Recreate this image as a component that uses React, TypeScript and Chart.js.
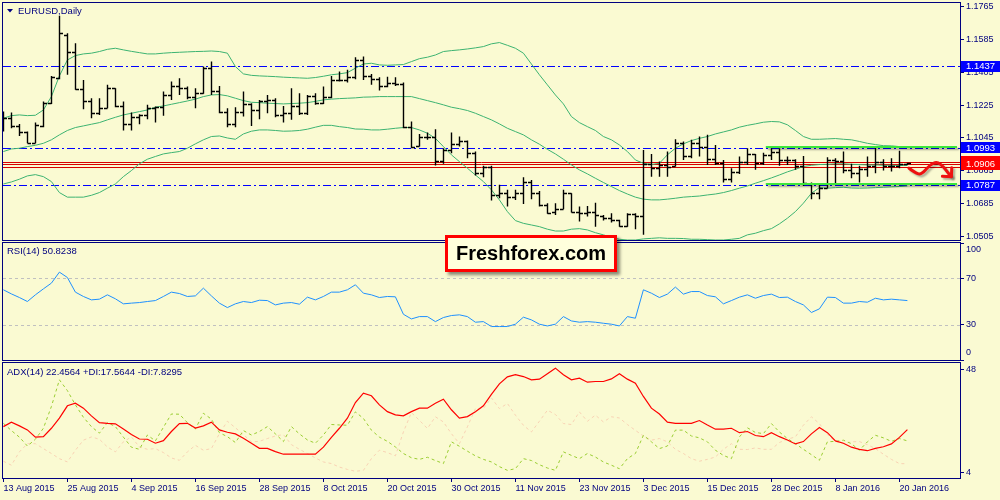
import React, { useEffect, useRef } from "react";
import { Chart, registerables } from "chart.js";

Chart.register(...registerables);

const NAVY = "#000080";
const BG = "#FAFAD2";
const FONT = "Liberation Sans";

const X_MIN = -0.05;
const X_MAX = 119.575;

const tickIndex = [0, 8, 16, 24, 32, 40, 48, 56, 64, 72, 80, 88, 96, 104, 112];
const tickLabels = [
  "13 Aug 2015", "25 Aug 2015", "4 Sep 2015", "16 Sep 2015", "28 Sep 2015",
  "8 Oct 2015", "20 Oct 2015", "30 Oct 2015", "11 Nov 2015", "23 Nov 2015",
  "3 Dec 2015", "15 Dec 2015", "28 Dec 2015", "8 Jan 2016", "20 Jan 2016",
];

const priceTitle = "EURUSD,Daily";
const rsiTitle = "RSI(14) 50.8238";
const adxTitle = "ADX(14) 22.4564 +DI:17.5644 -DI:7.8295";
const brandText = "Freshforex.com";

const openP = [
  1.1153, 1.1153, 1.1111, 1.1080, 1.1020, 1.1111, 1.1235, 1.1371, 1.1608, 1.1517,
  1.1311, 1.1249, 1.1180, 1.1208, 1.1317, 1.1220, 1.1122, 1.1162, 1.1169, 1.1208,
  1.1213, 1.1277, 1.1329, 1.1317, 1.1268, 1.1289, 1.1426, 1.1299, 1.1189, 1.1122,
  1.1189, 1.1231, 1.1198, 1.1249, 1.1253, 1.1171, 1.1180, 1.1220, 1.1184, 1.1275,
  1.1235, 1.1271, 1.1362, 1.1362, 1.1380, 1.1471, 1.1384, 1.1366, 1.1329, 1.1344,
  1.1340, 1.1104, 1.1002, 1.1053, 1.1049, 1.0922, 1.0980, 1.1013, 1.1026, 1.0965,
  1.0853, 1.0885, 1.0734, 1.0747, 1.0722, 1.0747, 1.0807, 1.0747, 1.0680, 1.0643,
  1.0656, 1.0743, 1.0643, 1.0638, 1.0643, 1.0620, 1.0607, 1.0598, 1.0565, 1.0631,
  1.0620, 1.0904, 1.0880, 1.0898, 1.0893, 1.1020, 1.0944, 1.1016, 1.0998, 1.0929,
  1.0907, 1.0820, 1.0862, 1.0916, 1.0958, 1.0907, 1.0953, 1.0971, 1.0925, 1.0925,
  1.0893, 1.0794, 1.0747, 1.0771, 1.0925, 1.0922, 1.0871, 1.0856, 1.0874, 1.0893,
  1.0916, 1.0893, 1.0893, 1.0904,
];
const highP = [
  1.1189, 1.1184, 1.1122, 1.1080, 1.1129, 1.1244, 1.1384, 1.1712, 1.1617, 1.1562,
  1.1362, 1.1262, 1.1262, 1.1335, 1.1317, 1.1244, 1.1184, 1.1175, 1.1226, 1.1217,
  1.1299, 1.1353, 1.1371, 1.1326, 1.1317, 1.1435, 1.1462, 1.1329, 1.1208, 1.1213,
  1.1299, 1.1235, 1.1253, 1.1280, 1.1262, 1.1220, 1.1317, 1.1289, 1.1280, 1.1289,
  1.1326, 1.1384, 1.1408, 1.1417, 1.1486, 1.1490, 1.1395, 1.1377, 1.1380, 1.1377,
  1.1348, 1.1135, 1.1067, 1.1075, 1.1093, 1.0989, 1.1075, 1.1053, 1.1031, 1.0971,
  1.0893, 1.0893, 1.0789, 1.0762, 1.0762, 1.0831, 1.0816, 1.0756, 1.0689, 1.0689,
  1.0762, 1.0743, 1.0671, 1.0674, 1.0692, 1.0625, 1.0634, 1.0598, 1.0634, 1.0634,
  1.0980, 1.0958, 1.0916, 1.0971, 1.1038, 1.1026, 1.1035, 1.1053, 1.1062, 1.1007,
  1.0925, 1.0880, 1.0944, 1.0989, 1.0958, 1.0965, 1.0989, 1.0989, 1.0944, 1.0929,
  1.0947, 1.0802, 1.0798, 1.0940, 1.0935, 1.0971, 1.0904, 1.0893, 1.0944, 1.0993,
  1.0929, 1.0935, 1.0975, 1.0910,
];
const lowP = [
  1.1080, 1.1098, 1.1056, 1.1016, 1.1016, 1.1104, 1.1231, 1.1366, 1.1390, 1.1308,
  1.1202, 1.1153, 1.1171, 1.1208, 1.1213, 1.1086, 1.1086, 1.1120, 1.1147, 1.1129,
  1.1166, 1.1253, 1.1280, 1.1257, 1.1208, 1.1286, 1.1280, 1.1180, 1.1104, 1.1104,
  1.1162, 1.1111, 1.1147, 1.1180, 1.1158, 1.1129, 1.1144, 1.1171, 1.1171, 1.1226,
  1.1231, 1.1262, 1.1353, 1.1348, 1.1366, 1.1362, 1.1335, 1.1304, 1.1322, 1.1329,
  1.1098, 1.0989, 1.0998, 1.1035, 1.0895, 1.0904, 1.0962, 1.0998, 1.0935, 1.0840,
  1.0831, 1.0703, 1.0716, 1.0671, 1.0707, 1.0685, 1.0711, 1.0671, 1.0631, 1.0625,
  1.0656, 1.0638, 1.0589, 1.0616, 1.0561, 1.0594, 1.0583, 1.0561, 1.0561, 1.0547,
  1.0516, 1.0834, 1.0834, 1.0834, 1.0889, 1.0925, 1.0935, 1.0944, 1.0898, 1.0898,
  1.0802, 1.0802, 1.0849, 1.0898, 1.0871, 1.0898, 1.0925, 1.0893, 1.0898, 1.0871,
  1.0783, 1.0711, 1.0711, 1.0771, 1.0798, 1.0853, 1.0825, 1.0802, 1.0834, 1.0853,
  1.0867, 1.0862, 1.0880, 1.0898,
];
const closeP = [
  1.1153, 1.1111, 1.1080, 1.1020, 1.1117, 1.1238, 1.1380, 1.1617, 1.1517, 1.1311,
  1.1249, 1.1180, 1.1208, 1.1317, 1.1220, 1.1122, 1.1162, 1.1169, 1.1208, 1.1213,
  1.1277, 1.1329, 1.1317, 1.1268, 1.1289, 1.1426, 1.1299, 1.1189, 1.1122, 1.1189,
  1.1231, 1.1198, 1.1249, 1.1253, 1.1171, 1.1180, 1.1220, 1.1184, 1.1275, 1.1235,
  1.1271, 1.1362, 1.1362, 1.1380, 1.1471, 1.1384, 1.1366, 1.1329, 1.1344, 1.1340,
  1.1104, 1.0998, 1.1053, 1.1049, 1.0922, 1.0980, 1.1013, 1.1026, 1.0965, 1.0853,
  1.0885, 1.0734, 1.0747, 1.0722, 1.0747, 1.0807, 1.0747, 1.0680, 1.0634, 1.0656,
  1.0743, 1.0643, 1.0638, 1.0643, 1.0625, 1.0607, 1.0598, 1.0565, 1.0631, 1.0620,
  1.0904, 1.0880, 1.0898, 1.0889, 1.1020, 1.0944, 1.1016, 1.0998, 1.0929, 1.0907,
  1.0820, 1.0862, 1.0916, 1.0958, 1.0907, 1.0953, 1.0971, 1.0925, 1.0925, 1.0893,
  1.0798, 1.0747, 1.0771, 1.0925, 1.0922, 1.0871, 1.0856, 1.0874, 1.0893, 1.0916,
  1.0893, 1.0893, 1.0904, 1.0906,
];

const bbUpper = [
  1.1153, 1.1167, 1.1171, 1.1167, 1.1169, 1.1198, 1.1271, 1.1384, 1.1471, 1.1495,
  1.1504, 1.1508, 1.1517, 1.1529, 1.1535, 1.1526, 1.1518, 1.1511, 1.1504, 1.1504,
  1.1508, 1.1511, 1.1513, 1.1515, 1.1517, 1.1518, 1.1520, 1.1517, 1.1508, 1.1435,
  1.1395, 1.1387, 1.1384, 1.1382, 1.1380, 1.1377, 1.1375, 1.1373, 1.1371, 1.1375,
  1.1382, 1.1390, 1.1395, 1.1402, 1.1426, 1.1449, 1.1453, 1.1444, 1.1442, 1.1444,
  1.1446, 1.1462, 1.1478, 1.1486, 1.1498, 1.1517, 1.1522, 1.1526, 1.1531, 1.1537,
  1.1544, 1.1559, 1.1566, 1.1551, 1.1535, 1.1508, 1.1449, 1.1390, 1.1335, 1.1280,
  1.1231, 1.1162, 1.1129, 1.1107, 1.1086, 1.1053, 1.1035, 1.1007, 1.0971, 1.0925,
  1.0907, 1.0900, 1.0907, 1.0953, 1.0989, 1.1013, 1.1031, 1.1043, 1.1053, 1.1067,
  1.1078, 1.1089, 1.1104, 1.1114, 1.1122, 1.1131, 1.1135, 1.1133, 1.1117, 1.1086,
  1.1053, 1.1038, 1.1038, 1.1040, 1.1042, 1.1038, 1.1035, 1.1026, 1.1016, 1.1009,
  1.1003, 1.1002, 1.0998, 1.0998,
];
const bbMiddle = [
  1.0971, 1.0985, 1.0989, 1.0998, 1.1005, 1.1016, 1.1035, 1.1062, 1.1086, 1.1102,
  1.1111, 1.1120, 1.1129, 1.1144, 1.1158, 1.1171, 1.1180, 1.1189, 1.1198, 1.1213,
  1.1220, 1.1229, 1.1238, 1.1247, 1.1257, 1.1271, 1.1280, 1.1282, 1.1275, 1.1262,
  1.1249, 1.1240, 1.1238, 1.1235, 1.1233, 1.1231, 1.1233, 1.1235, 1.1238, 1.1245,
  1.1253, 1.1257, 1.1260, 1.1262, 1.1264, 1.1268, 1.1269, 1.1271, 1.1271, 1.1271,
  1.1271, 1.1271, 1.1260, 1.1249, 1.1238, 1.1226, 1.1213, 1.1205, 1.1195, 1.1180,
  1.1162, 1.1144, 1.1122, 1.1098, 1.1080, 1.1062, 1.1035, 1.1011, 1.0983, 1.0958,
  1.0929, 1.0898, 1.0871, 1.0849, 1.0825, 1.0802, 1.0780, 1.0758, 1.0739, 1.0722,
  1.0711, 1.0707, 1.0707, 1.0711, 1.0716, 1.0722, 1.0725, 1.0728, 1.0734, 1.0739,
  1.0747, 1.0758, 1.0771, 1.0783, 1.0798, 1.0812, 1.0827, 1.0843, 1.0860, 1.0874,
  1.0889, 1.0896, 1.0900, 1.0901, 1.0904, 1.0904, 1.0901, 1.0900, 1.0898, 1.0898,
  1.0896, 1.0896, 1.0895, 1.0895,
];
const bbLower = [
  1.0794, 1.0805, 1.0820, 1.0838, 1.0845, 1.0834, 1.0807, 1.0747, 1.0722, 1.0722,
  1.0722, 1.0732, 1.0747, 1.0771, 1.0794, 1.0834, 1.0867, 1.0904, 1.0929, 1.0944,
  1.0958, 1.0965, 1.0971, 1.0989, 1.1013, 1.1035, 1.1053, 1.1056, 1.1045, 1.1038,
  1.1067, 1.1082, 1.1089, 1.1089, 1.1086, 1.1082, 1.1083, 1.1086, 1.1093, 1.1104,
  1.1114, 1.1114, 1.1107, 1.1102, 1.1094, 1.1093, 1.1089, 1.1089, 1.1093, 1.1098,
  1.1102, 1.1102, 1.1089, 1.1071, 1.1043, 1.0998, 1.0953, 1.0916, 1.0880, 1.0843,
  1.0807, 1.0762, 1.0707, 1.0643, 1.0594, 1.0579, 1.0570, 1.0561, 1.0547, 1.0537,
  1.0537, 1.0547, 1.0550, 1.0543, 1.0528, 1.0516, 1.0503, 1.0492, 1.0488, 1.0488,
  1.0494, 1.0497, 1.0500, 1.0497, 1.0497, 1.0496, 1.0492, 1.0492, 1.0490, 1.0488,
  1.0488, 1.0492, 1.0497, 1.0516, 1.0525, 1.0539, 1.0550, 1.0576, 1.0607, 1.0643,
  1.0689, 1.0743, 1.0774, 1.0771, 1.0774, 1.0776, 1.0772, 1.0771, 1.0772, 1.0774,
  1.0776, 1.0778, 1.0780, 1.0783,
];

const rsiValues = [
  60.0, 56.5, 53.4, 50.0, 55.7, 60.8, 65.7, 75.1, 70.5, 58.0,
  54.3, 51.4, 52.0, 55.7, 52.3, 48.0, 48.6, 49.1, 50.0, 50.8,
  54.3, 58.0, 56.8, 54.3, 54.8, 61.4, 54.8, 48.6, 44.8, 48.0,
  50.0, 49.1, 51.1, 50.8, 47.1, 48.6, 49.1, 47.7, 53.7, 51.4,
  54.3, 58.0, 58.0, 60.0, 64.3, 57.1, 55.7, 53.4, 54.3, 54.0,
  39.1, 35.1, 37.1, 37.1, 32.8, 36.3, 38.0, 38.6, 37.1, 32.3,
  32.8, 28.6, 28.6, 28.6, 30.6, 36.6, 34.3, 30.6, 29.1, 30.6,
  37.1, 33.4, 32.3, 32.8, 32.3, 31.4, 30.6, 29.1, 37.1, 35.7,
  60.0, 57.1, 53.4, 56.3, 62.3, 56.3, 58.5, 58.5, 55.1, 54.0,
  48.0, 50.8, 53.7, 55.7, 52.8, 55.1, 56.3, 53.4, 53.7, 50.0,
  47.1, 40.6, 43.7, 53.7, 53.4, 48.6, 48.6, 50.0, 49.4, 52.8,
  51.4, 52.0, 51.4, 50.8,
];

const adxValues = [
  23.7, 25.6, 24.0, 22.3, 19.2, 19.4, 23.0, 27.3, 32.6, 33.7,
  31.6, 28.3, 25.4, 25.1, 24.9, 22.7, 20.3, 18.4, 18.3, 16.6,
  17.7, 21.6, 25.0, 25.1, 23.1, 24.0, 25.6, 22.3, 21.3, 20.6,
  18.7, 16.6, 14.4, 14.4, 13.0, 11.9, 11.9, 11.9, 11.9, 11.9,
  14.9, 19.1, 23.0, 27.3, 34.0, 38.0, 36.9, 33.0, 30.1, 28.7,
  28.3, 30.1, 31.6, 31.6, 33.7, 35.4, 30.9, 27.3, 28.0, 30.1,
  32.6, 37.5, 42.0, 45.0, 45.9, 45.1, 43.7, 44.0, 46.3, 48.7,
  45.9, 43.7, 44.4, 42.7, 43.0, 43.0, 44.1, 46.3, 44.0, 42.3,
  36.6, 31.6, 29.1, 25.6, 25.1, 25.1, 25.1, 26.3, 24.4, 22.6,
  22.6, 23.0, 21.1, 21.6, 19.9, 19.4, 21.1, 19.4, 18.0, 16.3,
  17.3, 20.6, 23.3, 21.1, 17.6, 16.6, 14.9, 14.0, 13.4, 14.4,
  15.1, 16.3, 19.1, 22.4,
];
const plusDI = [
  25.1, 22.0, 19.2, 15.4, 18.3, 23.0, 32.3, 43.7, 39.1, 33.0,
  27.7, 23.7, 20.9, 25.4, 23.7, 19.2, 14.9, 14.0, 20.1, 17.6,
  23.4, 29.1, 29.0, 25.4, 22.7, 29.4, 26.9, 21.1, 19.4, 16.9,
  22.0, 20.1, 21.6, 23.7, 20.6, 17.3, 23.7, 20.6, 18.0, 16.6,
  20.1, 24.6, 24.4, 24.3, 30.0, 27.2, 22.2, 19.2, 17.4, 15.0,
  12.2, 10.4, 9.7, 10.6, 9.2, 7.9, 17.2, 15.3, 13.2, 11.2,
  9.7, 8.6, 6.6, 5.0, 5.7, 10.0, 9.2, 7.4, 6.0, 5.0,
  12.9, 11.4, 10.0, 12.2, 10.7, 8.6, 7.2, 5.7, 10.0, 12.2,
  20.0, 17.2, 14.3, 15.4, 22.2, 22.2, 19.7, 18.9, 17.2, 13.6,
  11.4, 10.0, 19.3, 23.2, 21.2, 20.7, 25.0, 21.4, 18.6, 16.4,
  14.0, 11.7, 9.3, 17.2, 17.4, 17.9, 16.4, 13.6, 17.2, 20.0,
  18.9, 17.4, 18.6, 17.6,
];
const minusDI = [
  8.9, 7.2, 12.9, 16.4, 16.4, 14.3, 12.2, 10.0, 8.6, 13.6,
  17.9, 19.3, 18.3, 15.0, 12.9, 17.2, 19.3, 15.0, 14.0, 14.3,
  12.6, 10.3, 9.3, 12.9, 15.7, 13.6, 14.3, 20.7, 26.0, 23.2,
  20.3, 17.2, 17.4, 18.6, 19.7, 20.3, 16.0, 14.0, 12.2, 10.3,
  8.6, 7.9, 6.4, 5.4, 4.6, 5.0, 10.0, 13.6, 12.6, 11.2,
  21.4, 29.7, 26.4, 22.9, 27.9, 25.7, 20.7, 16.4, 23.6, 31.4,
  31.4, 36.0, 31.4, 33.6, 28.6, 24.3, 21.4, 26.0, 30.7, 28.9,
  25.0, 24.6, 30.0, 26.0, 28.6, 25.7, 27.9, 27.4, 24.6, 22.1,
  19.7, 17.9, 18.6, 17.2, 14.0, 12.2, 10.0, 8.9, 9.7, 10.7,
  14.0, 16.4, 14.0, 13.9, 14.6, 14.0, 14.0, 16.9, 18.3, 19.3,
  24.3, 27.9, 25.0, 20.3, 17.4, 16.4, 17.2, 17.3, 16.0, 14.3,
  11.9, 9.7, 7.9, 7.8,
];

const priceMin = 1.0488;
const priceMax = 1.1782;
const priceTicks = [1.1765, 1.1585, 1.1405, 1.1225, 1.1045, 1.0865, 1.0685, 1.0505];
const blueLevels = [1.1437, 1.0993, 1.0787];
const redLevels = [1.0916, 1.0905, 1.0885];
const lastPrice = 1.0906;
const rangeLevels = [1.0998, 1.0792];
const rangeSpan = [95.3, 119.2];
const arrowIdx = [113.2, 113.9, 114.7, 115.8, 116.7, 117.5, 118.1, 118.5];
const arrowPrice = [1.0880, 1.0858, 1.0843, 1.0898, 1.0916, 1.0889, 1.0853, 1.0834];

const rsiLevels = [70, 30];
const rsiTicks = [100, 70, 30, 0];
const adxMin = 1.73;
const adxMax = 50.9;
const adxTicks = [48, 4];

const pts = (arr: number[]) => arr.map((v, i) => ({ x: i, y: v }));

function xScale(show: boolean) {
  return {
    type: "linear",
    min: X_MIN,
    max: X_MAX,
    bounds: "data",
    display: show,
    afterBuildTicks: (s: any) => {
      s.ticks = tickIndex.map((v) => ({ value: v }));
    },
    afterFit: (s: any) => {
      if (show) s.height = 22;
      s.paddingLeft = 0;
      s.paddingRight = 0;
    },
    ticks: {
      autoSkip: false,
      maxRotation: 0,
      minRotation: 0,
      align: "start",
      padding: 1,
      color: NAVY,
      font: { family: FONT, size: 9 },
      callback: (v: any) => {
        const k = tickIndex.indexOf(Number(v));
        return k >= 0 ? tickLabels[k] : "";
      },
    },
    grid: { drawOnChartArea: false, drawTicks: true, tickLength: 4, color: NAVY },
    border: { display: false },
  };
}

function yScale(min: number, max: number, ticks: number[], fmt: (v: number) => string) {
  return {
    type: "linear",
    position: "right",
    min,
    max,
    bounds: "data",
    afterBuildTicks: (s: any) => {
      s.ticks = ticks.map((v) => ({ value: v }));
    },
    afterFit: (s: any) => {
      s.width = 40;
      s.paddingTop = 0;
      s.paddingBottom = 0;
    },
    ticks: {
      autoSkip: false,
      padding: 2,
      color: NAVY,
      font: { family: FONT, size: 9 },
      callback: (v: any) => fmt(Number(v)),
    },
    grid: { drawOnChartArea: false, drawTicks: true, tickLength: 4, color: NAVY },
    border: { display: false },
  };
}

function clipArea(chart: any) {
  const a = chart.chartArea;
  chart.ctx.beginPath();
  chart.ctx.rect(a.left, a.top, a.right - a.left, a.bottom - a.top);
  chart.ctx.clip();
}

function drawFrame(chart: any) {
  const { ctx, chartArea: a } = chart;
  ctx.save();
  ctx.strokeStyle = NAVY;
  ctx.lineWidth = 1;
  ctx.strokeRect(a.left - 0.5, a.top - 0.5, a.right - a.left + 1, a.bottom - a.top + 1);
  ctx.restore();
}

function drawTitle(chart: any, text: string, x: number, y: number) {
  const ctx = chart.ctx;
  ctx.save();
  ctx.fillStyle = NAVY;
  ctx.font = `9.5px "${FONT}"`;
  ctx.textBaseline = "middle";
  ctx.textAlign = "left";
  ctx.fillText(text, x, y);
  ctx.restore();
}

function hLine(chart: any, value: number, color: string, dash: number[], width: number) {
  const { ctx, chartArea: a, scales } = chart;
  const y = Math.round(scales.y.getPixelForValue(value)) + 0.5;
  ctx.save();
  ctx.strokeStyle = color;
  ctx.lineWidth = width;
  ctx.setLineDash(dash);
  ctx.beginPath();
  ctx.moveTo(a.left, y);
  ctx.lineTo(a.right, y);
  ctx.stroke();
  ctx.restore();
}

function priceTag(chart: any, value: number, fill: string, h: number) {
  const { ctx, chartArea: a, scales } = chart;
  const y = scales.y.getPixelForValue(value);
  const x0 = a.right + 1;
  ctx.save();
  ctx.fillStyle = fill;
  ctx.fillRect(x0, Math.round(y - h / 2), chart.width - x0, h);
  ctx.fillStyle = "#FFFFFF";
  ctx.font = `9.5px "${FONT}"`;
  ctx.textBaseline = "middle";
  ctx.textAlign = "left";
  ctx.fillText(value.toFixed(4), x0 + 5, y + 0.5);
  ctx.restore();
}

const pricePlugin = {
  id: "priceDecor",
  beforeDatasetsDraw(chart: any) {
    const ctx = chart.ctx;
    ctx.save();
    clipArea(chart);
    blueLevels.forEach((v) => hLine(chart, v, "#0000FF", [8, 3, 2, 3], 1));
    redLevels.forEach((v) => hLine(chart, v, "#D80000", [], 1));
    ctx.restore();
  },
  afterDatasetsDraw(chart: any) {
    const { ctx, scales } = chart;
    const xs = scales.x;
    const ys = scales.y;
    ctx.save();
    clipArea(chart);
    ctx.strokeStyle = "#000000";
    ctx.lineWidth = 1.4;
    ctx.beginPath();
    for (let i = 0; i < closeP.length; i++) {
      const px = Math.round(xs.getPixelForValue(i)) + 0.5;
      const yh = ys.getPixelForValue(highP[i]);
      const yl = ys.getPixelForValue(lowP[i]);
      const yo = Math.round(ys.getPixelForValue(openP[i])) + 0.5;
      const yc = Math.round(ys.getPixelForValue(closeP[i])) + 0.5;
      ctx.moveTo(px, yh);
      ctx.lineTo(px, yl);
      ctx.moveTo(px - 3.5, yo);
      ctx.lineTo(px, yo);
      ctx.moveTo(px, yc);
      ctx.lineTo(px + 3.5, yc);
    }
    ctx.stroke();
    ctx.restore();
  },
  afterDraw(chart: any) {
    const { ctx, scales } = chart;
    const xs = scales.x;
    const ys = scales.y;
    drawFrame(chart);

    // range lines (lime) with shadow
    ctx.save();
    ctx.strokeStyle = "#3CE63C";
    ctx.lineWidth = 2;
    ctx.shadowColor = "rgba(0,0,0,0.35)";
    ctx.shadowOffsetX = 2;
    ctx.shadowOffsetY = 2;
    ctx.shadowBlur = 2;
    rangeLevels.forEach((v) => {
      const y = Math.round(ys.getPixelForValue(v));
      ctx.beginPath();
      ctx.moveTo(xs.getPixelForValue(rangeSpan[0]), y);
      ctx.lineTo(xs.getPixelForValue(rangeSpan[1]), y);
      ctx.stroke();
    });
    ctx.restore();

    // arrow
    const P = arrowIdx.map((v, k) => [xs.getPixelForValue(v), ys.getPixelForValue(arrowPrice[k])]);
    ctx.save();
    ctx.strokeStyle = "#EE1111";
    ctx.lineWidth = 3;
    ctx.lineCap = "round";
    ctx.lineJoin = "round";
    ctx.shadowColor = "rgba(0,0,0,0.3)";
    ctx.shadowOffsetX = 2;
    ctx.shadowOffsetY = 2;
    ctx.shadowBlur = 2;
    ctx.beginPath();
    ctx.moveTo(P[0][0], P[0][1]);
    for (let k = 1; k < P.length - 1; k++) {
      const mx = (P[k][0] + P[k + 1][0]) / 2;
      const my = (P[k][1] + P[k + 1][1]) / 2;
      ctx.quadraticCurveTo(P[k][0], P[k][1], mx, my);
    }
    const n = P.length;
    ctx.lineTo(P[n - 1][0], P[n - 1][1]);
    ctx.stroke();
    const [tx, ty] = P[n - 1];
    const [sx, sy] = P[n - 2];
    const ang = Math.atan2(ty - sy, tx - sx);
    const L = 9;
    ctx.beginPath();
    ctx.moveTo(tx + L * Math.cos(ang + Math.PI * 0.75), ty + L * Math.sin(ang + Math.PI * 0.75));
    ctx.lineTo(tx, ty);
    ctx.lineTo(tx + L * Math.cos(ang - Math.PI * 0.75), ty + L * Math.sin(ang - Math.PI * 0.75));
    ctx.stroke();
    ctx.restore();

    // title with triangle
    ctx.save();
    ctx.fillStyle = NAVY;
    ctx.beginPath();
    ctx.moveTo(7, 9);
    ctx.lineTo(13, 9);
    ctx.lineTo(10, 12.5);
    ctx.closePath();
    ctx.fill();
    ctx.restore();
    drawTitle(chart, priceTitle, 18, 11);

    // price tags on the axis
    blueLevels.forEach((v) => priceTag(chart, v, "#0000FF", 11));
    priceTag(chart, lastPrice, "#FF0000", 14);
  },
};

const rsiPlugin = {
  id: "rsiDecor",
  beforeDatasetsDraw(chart: any) {
    const ctx = chart.ctx;
    ctx.save();
    clipArea(chart);
    rsiLevels.forEach((v) => hLine(chart, v, "#C0C0C0", [3, 3], 1));
    ctx.restore();
  },
  afterDraw(chart: any) {
    const { ctx, chartArea: a } = chart;
    drawFrame(chart);
    drawTitle(chart, rsiTitle, 7, a.top + 8);
    ctx.save();
    ctx.fillStyle = NAVY;
    ctx.font = `9px "${FONT}"`;
    ctx.textBaseline = "middle";
    ctx.textAlign = "left";
    ctx.fillText(String(rsiTicks[0]), a.right + 6, a.top + 7);
    ctx.fillText(String(rsiTicks[3]), a.right + 6, a.bottom - 7);
    ctx.restore();
  },
};

const adxPlugin = {
  id: "adxDecor",
  afterDraw(chart: any) {
    const a = chart.chartArea;
    drawFrame(chart);
    drawTitle(chart, adxTitle, 7, a.top + 9);
  },
};

const common = {
  responsive: false,
  animation: false,
  events: [],
  plugins: { legend: { display: false }, tooltip: { enabled: false } },
};

export default function App() {
  const priceRef = useRef<HTMLCanvasElement>(null);
  const rsiRef = useRef<HTMLCanvasElement>(null);
  const adxRef = useRef<HTMLCanvasElement>(null);

  useEffect(() => {
    const charts: any[] = [];

    charts.push(
      new Chart(priceRef.current as any, {
        type: "line",
        data: {
          datasets: [
            { data: pts(bbUpper), borderColor: "#3CB371", borderWidth: 1, pointRadius: 0, fill: false },
            { data: pts(bbMiddle), borderColor: "#3CB371", borderWidth: 1, pointRadius: 0, fill: false },
            { data: pts(bbLower), borderColor: "#3CB371", borderWidth: 1, pointRadius: 0, fill: false },
          ],
        },
        options: {
          ...common,
          layout: { padding: { left: 3, top: 3, right: 0, bottom: 2 }, autoPadding: false },
          scales: {
            x: xScale(false),
            y: yScale(priceMin, priceMax, priceTicks, (v) => v.toFixed(4)),
          },
        } as any,
        plugins: [pricePlugin],
      } as any)
    );

    charts.push(
      new Chart(rsiRef.current as any, {
        type: "line",
        data: {
          datasets: [
            { data: pts(rsiValues), borderColor: "#1E90FF", borderWidth: 1, pointRadius: 0, fill: false },
          ],
        },
        options: {
          ...common,
          layout: { padding: { left: 3, top: 2, right: 0, bottom: 2 }, autoPadding: false },
          scales: {
            x: xScale(false),
            y: yScale(0, 100, rsiTicks, (v) => (v === 100 || v === 0 ? "" : String(v))),
          },
        } as any,
        plugins: [rsiPlugin],
      } as any)
    );

    charts.push(
      new Chart(adxRef.current as any, {
        type: "line",
        data: {
          datasets: [
            { data: pts(adxValues), borderColor: "#FF0000", borderWidth: 1.2, pointRadius: 0, fill: false },
            { data: pts(plusDI), borderColor: "#9ACD32", borderWidth: 1, borderDash: [3, 3], pointRadius: 0, fill: false },
            { data: pts(minusDI), borderColor: "#F8D2B4", borderWidth: 1, borderDash: [3, 3], pointRadius: 0, fill: false },
          ],
        },
        options: {
          ...common,
          layout: { padding: { left: 3, top: 2, right: 0, bottom: 0 }, autoPadding: false },
          scales: {
            x: xScale(true),
            y: yScale(adxMin, adxMax, adxTicks, (v) => String(v)),
          },
        } as any,
        plugins: [adxPlugin],
      } as any)
    );

    return () => charts.forEach((c) => c.destroy());
  }, []);

  return (
    <div
      style={{
        position: "fixed",
        left: 0,
        top: 0,
        width: 1000,
        height: 500,
        background: BG,
        overflow: "hidden",
      }}
    >
      <canvas ref={priceRef} width={1000} height={242} style={{ position: "absolute", left: 0, top: 0 }} />
      <canvas ref={rsiRef} width={1000} height={121} style={{ position: "absolute", left: 0, top: 241 }} />
      <canvas ref={adxRef} width={1000} height={139} style={{ position: "absolute", left: 0, top: 361 }} />
      <div
        style={{
          position: "absolute",
          left: 445,
          top: 235,
          width: 172,
          height: 37,
          boxSizing: "border-box",
          border: "3px solid #FF0000",
          background: "#FFFFDC",
          boxShadow: "3px 3px 3px rgba(0,0,0,0.45)",
          display: "flex",
          alignItems: "center",
          justifyContent: "center",
          fontFamily: `"${FONT}", Arial, sans-serif`,
          fontWeight: "bold",
          fontSize: 20,
          color: "#000000",
        }}
      >
        {brandText}
      </div>
    </div>
  );
}
